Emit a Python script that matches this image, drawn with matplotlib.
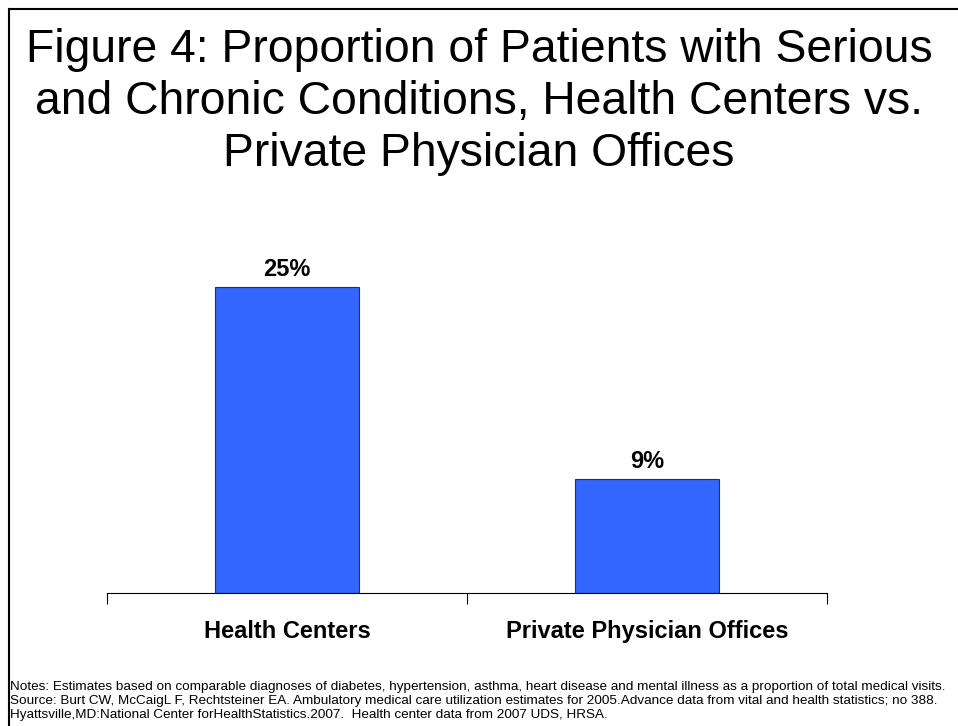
import matplotlib
matplotlib.use("Agg")
import matplotlib.pyplot as plt
from matplotlib.lines import Line2D

categories = ["Health Centers", "Private Physician Offices"]
values = [25, 9.3]
value_labels = ["25%", "9%"]

title = "Figure 4: Proportion of Patients with Serious\nand Chronic Conditions, Health Centers vs.\nPrivate Physician Offices"
notes = ("Notes: Estimates based on comparable diagnoses of diabetes, hypertension, asthma, heart disease and mental illness as a proportion of total medical visits.\n"
         "Source: Burt CW, McCaigL F, Rechtsteiner EA. Ambulatory medical care utilization estimates for 2005.Advance data from vital and health statistics; no 388.\n"
         "Hyattsville,MD:National Center forHealthStatistics.2007.  Health center data from 2007 UDS, HRSA.")

plt.rcParams['font.family'] = ['Liberation Sans', 'DejaVu Sans']

W, H = 958, 726
fig = plt.figure(figsize=(W / 100, H / 100), dpi=100)
fig.patch.set_facecolor("white")

# axes placement in pixels
x0, x1 = 107, 827
y_base, y_top = 593, 226
ax = fig.add_axes([x0 / W, (H - y_base) / H, (x1 - x0) / W, (y_base - y_top) / H])

xpos = list(range(len(categories)))
bars = ax.bar(xpos, values, width=0.4, color="#3366FF", edgecolor="#333333", linewidth=0.8, zorder=2)
ax.set_xlim(-0.5, len(categories) - 0.5)
ax.set_ylim(0, 30)

for spine in ["left", "right", "top"]:
    ax.spines[spine].set_visible(False)
ax.spines["bottom"].set_linewidth(0.8)
ax.set_yticks([])
ax.set_xticks([-0.5, 0.5, 1.5])
ax.set_xticklabels([])
ax.tick_params(axis="x", direction="out", length=8, width=0.8)

for x, v, lab in zip(xpos, values, value_labels):
    ax.annotate(lab, (x, v), xytext=(0, 13), textcoords="offset points",
                ha="center", va="center", fontsize=17, fontweight="bold")

for x, c in zip(xpos, categories):
    ax.annotate(c, (x, 0), xytext=(0, -27.4), textcoords="offset points",
                ha="center", va="center", fontsize=17, fontweight="bold",
                xycoords=("data", "axes fraction"))

fig.text(479 / W, 1 - 102 / H, title, ha="center", va="center", fontsize=33.3,
         linespacing=1.25)

fig.text(10 / W, 1 - 701 / H, notes, ha="left", va="center", fontsize=9.7,
         linespacing=1.17)

# slide border (top and left)
fig.add_artist(Line2D([9 / W, 1], [1 - 9 / H, 1 - 9 / H], color="black", linewidth=1.5, transform=fig.transFigure))
fig.add_artist(Line2D([9 / W, 9 / W], [0, 1 - 9 / H], color="black", linewidth=1.5, transform=fig.transFigure))

fig.savefig("out.png", dpi=100)
